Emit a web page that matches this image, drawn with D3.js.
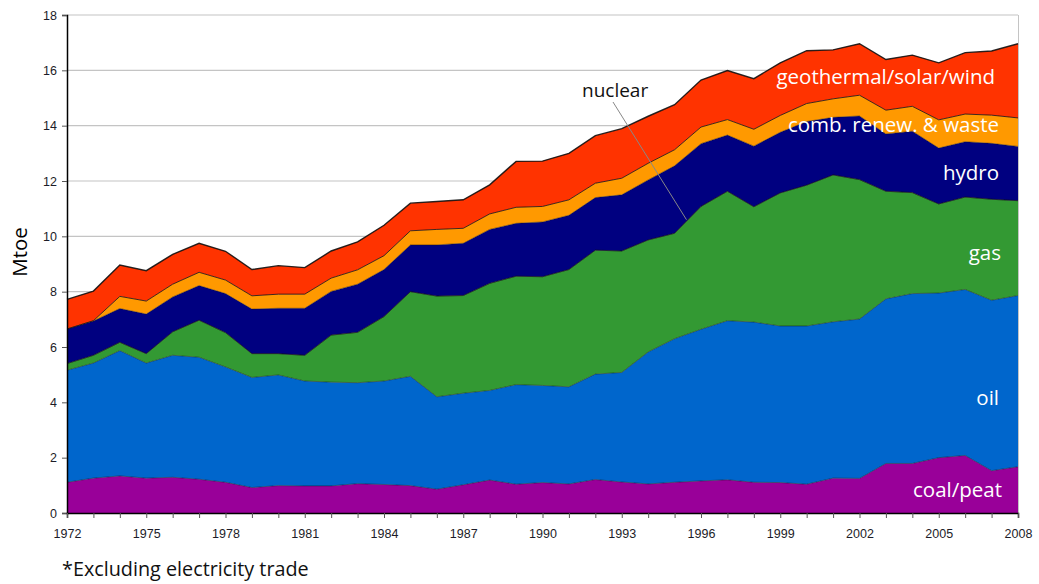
<!DOCTYPE html>
<html>
<head>
<meta charset="utf-8">
<script src="https://cdn.jsdelivr.net/npm/d3@7"></script>
<style>
  html, body { margin: 0; padding: 0; background: #fff; }
  svg { display: block; }
</style>
</head>
<body>
<svg id="chart" width="1039" height="584"></svg>
<script>
const years = [1972,1973,1974,1975,1976,1977,1978,1979,1980,1981,1982,1983,1984,1985,1986,1987,1988,1989,1990,1991,1992,1993,1994,1995,1996,1997,1998,1999,2000,2001,2002,2003,2004,2005,2006,2007,2008];
const coalPeat = [1.11,1.26,1.34,1.26,1.29,1.22,1.11,0.92,0.99,0.98,0.98,1.06,1.03,0.99,0.86,1.02,1.19,1.04,1.10,1.05,1.21,1.12,1.05,1.11,1.16,1.20,1.11,1.10,1.04,1.26,1.25,1.79,1.79,2.00,2.08,1.53,1.67];
const oil = [4.05,4.16,4.53,4.16,4.41,4.41,4.17,3.98,4.00,3.79,3.75,3.65,3.74,3.95,3.34,3.31,3.24,3.60,3.51,3.51,3.81,3.96,4.77,5.19,5.48,5.75,5.79,5.66,5.72,5.65,5.76,5.95,6.14,5.95,6.00,6.16,6.19];
const gas = [0.24,0.28,0.30,0.34,0.85,1.34,1.24,0.86,0.77,0.93,1.70,1.82,2.33,3.06,3.64,3.53,3.87,3.92,3.93,4.24,4.48,4.39,4.05,3.81,4.44,4.68,4.17,4.81,5.09,5.31,5.04,3.89,3.65,3.22,3.34,3.65,3.43];
const nuclear = [0,0,0,0,0,0,0,0,0,0,0,0,0,0,0,0,0,0,0,0,0,0,0,0,0,0,0,0,0,0,0,0,0,0,0,0,0];
const hydro = [1.25,1.24,1.22,1.43,1.26,1.25,1.41,1.61,1.64,1.70,1.58,1.74,1.70,1.69,1.85,1.89,1.95,1.91,1.98,1.96,1.90,2.03,2.17,2.44,2.27,2.03,2.19,2.19,2.30,2.08,2.30,2.07,2.22,2.02,2.00,2.02,1.96];
const combRenewWaste = [0.00,0.01,0.44,0.47,0.46,0.48,0.49,0.48,0.51,0.51,0.48,0.52,0.50,0.51,0.56,0.54,0.56,0.58,0.56,0.56,0.52,0.60,0.60,0.58,0.60,0.56,0.61,0.61,0.65,0.67,0.75,0.86,0.90,1.02,1.00,1.02,1.03];
const geoSolarWind = [1.07,1.07,1.13,1.10,1.08,1.05,1.04,0.95,1.03,0.96,0.98,1.01,1.10,1.00,1.01,1.03,1.05,1.66,1.64,1.68,1.72,1.79,1.70,1.63,1.70,1.77,1.83,1.90,1.91,1.77,1.86,1.83,1.85,2.06,2.22,2.32,2.68];

const seriesNames = ["coal/peat","oil","gas","nuclear","hydro","comb. renew. & waste","geothermal/solar/wind"];
const seriesValues = [coalPeat, oil, gas, nuclear, hydro, combRenewWaste, geoSolarWind];
const yTicks = [0,2,4,6,8,10,12,14,16,18];
const xLabelYears = [1972,1975,1978,1981,1984,1987,1990,1993,1996,1999,2002,2005,2008];
const yAxisTitle = "Mtoe";
const footnote = "*Excluding electricity trade";

const colors = {
  "coal/peat": "#990099",
  "oil": "#0066CC",
  "gas": "#339933",
  "nuclear": "#FFFF99",
  "hydro": "#000080",
  "comb. renew. & waste": "#FF9900",
  "geothermal/solar/wind": "#FF3300"
};

const rows = years.map((yr, i) => {
  const r = { year: yr };
  seriesNames.forEach((n, k) => { r[n] = seriesValues[k][i]; });
  return r;
});

const svg = d3.select("#chart");
const L = 67, R = 1018, T = 15, B = 513;
const x = d3.scaleLinear().domain([1972, 2008]).range([L, R]);
const y = d3.scaleLinear().domain([0, 18]).range([B, T]);

const stack = d3.stack().keys(seriesNames);
const layers = stack(rows);

// gridlines
svg.append("g").selectAll("line").data(yTicks.filter(d => d > 0)).join("line")
  .attr("x1", L).attr("x2", R)
  .attr("y1", d => y(d)).attr("y2", d => y(d))
  .attr("stroke", "#c4c4c4").attr("stroke-width", 1.2);

// right border
svg.append("line").attr("x1", R + 0.5).attr("x2", R + 0.5).attr("y1", T).attr("y2", B)
  .attr("stroke", "#c4c4c4").attr("stroke-width", 1);

const area = d3.area()
  .x(d => x(d.data.year))
  .y0(d => y(d[0]))
  .y1(d => y(d[1]));

svg.append("g").selectAll("path").data(layers).join("path")
  .attr("d", area)
  .attr("fill", d => colors[d.key]);

const line = d3.line().x(d => x(d.data.year)).y(d => y(d[1]));
svg.append("g").selectAll("path").data(layers).join("path")
  .attr("d", line)
  .attr("fill", "none")
  .attr("stroke", "#111")
  .attr("stroke-opacity", d => d.key === "geothermal/solar/wind" ? 0.9 : (d.key === "comb. renew. & waste" ? 0.8 : 0.45))
  .attr("stroke-width", d => d.key === "geothermal/solar/wind" ? 1.4 : 1);

// axes
const yAxis = d3.axisLeft(y).tickValues(yTicks).tickSize(5).tickPadding(5);
const gy = svg.append("g").attr("transform", `translate(${L},0)`).call(yAxis);
gy.select(".domain").attr("stroke", "#000").attr("stroke-width", 1.5);
gy.selectAll(".tick line").attr("stroke", "#555");
gy.selectAll(".tick text").attr("font-family", "'Liberation Sans', Arial, sans-serif")
  .attr("font-size", 12.5).attr("fill", "#1c1c28");

const xAxis = d3.axisBottom(x).tickValues(years).tickSize(5).tickPadding(11)
  .tickFormat(d => xLabelYears.includes(d) ? String(d) : "");
const gx = svg.append("g").attr("transform", `translate(0,${B})`).call(xAxis);
gx.select(".domain").attr("stroke", "#000").attr("stroke-width", 1.5);
gx.selectAll(".tick line").attr("stroke", "#555");
gx.selectAll(".tick text").attr("font-family", "'Liberation Sans', Arial, sans-serif")
  .attr("font-size", 12.5).attr("fill", "#1c1c28");

// series labels
const labelFont = "'Open Sans', 'Noto Sans', sans-serif";
const labels = [
  { name: "geothermal/solar/wind", v: 15.5, end: 995 },
  { name: "comb. renew. & waste", v: 13.77, end: 999 },
  { name: "hydro", v: 12.03, end: 999 },
  { name: "gas", v: 9.14, end: 1001 },
  { name: "oil", v: 3.9, end: 999 },
  { name: "coal/peat", v: 0.58, end: 1002 }
];
svg.append("g").selectAll("text").data(labels).join("text")
  .attr("x", d => d.end).attr("y", d => y(d.v))
  .attr("text-anchor", "end")
  .attr("font-family", labelFont).attr("font-size", 20.5)
  .attr("fill", "#fff")
  .text(d => d.name);

// nuclear callout
svg.append("line")
  .attr("x1", 613).attr("y1", 102)
  .attr("x2", x(1995.45)).attr("y2", y(10.6))
  .attr("stroke", "#888").attr("stroke-width", 1);
svg.append("text").attr("x", 582).attr("y", 97)
  .attr("font-family", labelFont).attr("font-size", 19).attr("fill", "#111")
  .text("nuclear");

// y title
svg.append("text")
  .attr("transform", `translate(27,252) rotate(-90)`)
  .attr("text-anchor", "middle")
  .attr("font-family", labelFont).attr("font-size", 20.5).attr("fill", "#000")
  .text(yAxisTitle);

// footnote
svg.append("text").attr("x", 62).attr("y", 576)
  .attr("font-family", labelFont).attr("font-size", 19.8).attr("fill", "#111")
  .text(footnote);
</script>
</body>
</html>
